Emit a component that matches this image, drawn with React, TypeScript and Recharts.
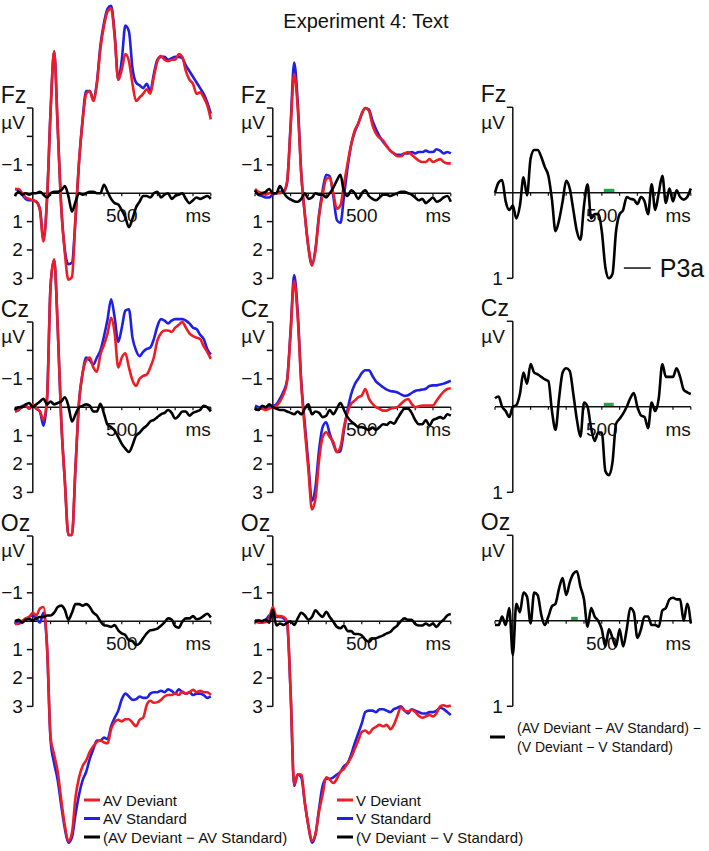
import React from 'react';
import { LineChart, Line, XAxis, YAxis, ReferenceLine, ReferenceArea } from 'recharts';

// time axis (ms)
const times = [-100, -80, -60, -40, -20, 0, 20, 40, 60, 80, 100, 120, 140, 160, 180, 200, 220, 240, 260, 280, 300, 320, 340, 360, 380, 400, 420, 440, 460, 480, 500, 520, 540, 560, 580, 600, 620, 640, 660, 680, 700, 720, 740, 760, 780, 800, 820, 840, 860, 880, 900, 920, 940, 960, 980, 1000];

// Fz
const avFzDev = [-0.15, -0.15, 0.0, 0.15, 0.2, 0.25, 0.3, 0.6, 1.7, 0.2,
  -2.9, -5.0, -2.3, 0.5, 2.1, 3.05, 2.95, 0.85, -1.15, -2.55,
  -3.5, -3.6, -3.25, -3.85, -5.1, -5.9, -6.4, -6.5, -5.5, -4.0,
  -4.35, -4.9, -4.65, -3.85, -3.25, -3.37, -3.5, -3.66, -3.5, -4.1,
  -4.65, -4.83, -4.7, -4.65, -4.7, -4.7, -4.9, -4.8, -4.3, -4.0,
  -3.85, -3.5, -3.55, -3.37, -3.1, -2.6];
const avFzStd = [-0.15, -0.1, 0.05, 0.2, 0.25, 0.25, 0.3, 0.55, 1.6, 0.2,
  -2.9, -5.0, -2.3, 0.5, 2.0, 2.5, 2.45, 0.9, -1.1, -2.6,
  -3.6, -3.6, -3.3, -3.9, -5.2, -6.0, -6.5, -6.6, -5.6, -4.0,
  -4.7, -5.9, -5.7, -4.4, -3.9, -3.8, -3.7, -3.85, -3.6, -4.2,
  -4.7, -4.8, -4.8, -4.7, -4.75, -4.8, -4.8, -4.75, -4.5, -4.3,
  -4.1, -3.9, -3.7, -3.5, -3.2, -2.8];
const avFzDiff = [0.1, -0.05, 0.05, 0.0, 0.05, 0.0, 0.0, -0.05, 0.05, 0.15,
  0.0, -0.05, -0.05, -0.1, -0.25, 0.1, 0.65, 0.3, 0.0, 0.05,
  0.0, -0.05, -0.05, 0.0, 0.0, -0.3, -0.05, 0.2, 0.35, 0.4,
  0.6, 0.85, 1.2, 0.9, 0.5, 0.3, 0.1, 0.1, 0.15, 0.0,
  -0.05, 0.15, 0.05, 0.0, 0.2, 0.1, 0.05, 0.0, 0.2, 0.35,
  0.25, 0.15, 0.2, 0.15, 0.1, 0.2];
const vFzDev = [-0.15, -0.05, 0.0, 0.05, 0.0, 0.0, 0.0, 0.0, -0.05, -0.4,
  -2.3, -4.2, -3.0, -0.65, 0.75, 1.9, 2.55, 2.0, 0.8, 0.05,
  -0.5, -0.55, 0.0, 0.55, 0.43, -0.33, -1.05, -1.7, -2.2, -2.45,
  -2.8, -3.0, -2.9, -2.4, -2.1, -1.95, -1.85, -1.65, -1.5, -1.4,
  -1.3, -1.3, -1.4, -1.45, -1.35, -1.25, -1.15, -1.1, -1.1, -1.2,
  -1.1, -1.15, -1.2, -1.1, -1.05, -1.05];
const vFzStd = [-0.1, 0.05, 0.1, 0.15, 0.15, 0.05, 0.0, -0.05, -0.05, -0.35,
  -2.4, -4.6, -3.2, -0.7, 0.75, 1.9, 2.5, 1.95, 0.75, -0.1,
  -0.65, -0.6, 0.1, 0.95, 1.05, 0.1, -0.9, -1.7, -2.15, -2.45,
  -2.8, -3.0, -2.95, -2.55, -2.25, -2.0, -1.8, -1.65, -1.5, -1.4,
  -1.35, -1.35, -1.4, -1.4, -1.45, -1.4, -1.45, -1.45, -1.5, -1.45,
  -1.45, -1.55, -1.5, -1.4, -1.45, -1.4];
const vFzDiff = [-0.1, 0.05, 0.0, -0.05, -0.15, 0.0, 0.0, -0.25, -0.03, 0.14,
  0.22, 0.28, 0.3, 0.2, 0.0, 0.2, 0.15, 0.0, 0.05, 0.05,
  0.15, 0.0, -0.2, -0.45, -0.65, -0.05, 0.1, -0.1, 0.0, 0.2,
  0.0, -0.1, 0.1, 0.2, 0.25, 0.15, 0.05, 0.05, 0.1, 0.05,
  0.0, -0.05, -0.05, 0.0, 0.05, 0.15, 0.25, 0.2, 0.35, 0.25,
  0.15, 0.3, 0.25, 0.15, 0.1, 0.3];
const ddFz = [0.0, -0.12, -0.15, 0.1, 0.2, 0.15, 0.3, 0.15, -0.18, 0.03,
  -0.4, -0.5, -0.5, -0.42, -0.3, -0.2, 0.08, 0.45, 0.32, 0.1,
  -0.14, -0.05, 0.2, 0.45, 0.55, 0.15, -0.1, 0.3, 0.25, 0.25,
  0.45, 0.87, 1.0, 0.95, 0.45, 0.25, 0.2, 0.05, 0.07, 0.08,
  0.13, 0.05, 0.1, 0.25, -0.1, 0.2, 0.0, -0.2, 0.12, -0.05,
  0.1, -0.03, 0.05, 0.08, 0.05, -0.05];

// Cz
const avCzDev = [0.15, 0.1, 0.0, -0.05, 0.05, -0.1, 0.05, 0.15, 0.45, -0.3,
  -4.3, -5.2, -2.8, 0.5, 2.6, 4.5, 4.5, 2.1, -0.2, -1.2,
  -1.65, -1.75, -1.4, -1.25, -1.85, -2.2, -2.6, -3.15, -2.6, -1.4,
  -1.75, -1.9, -1.4, -0.95, -0.75, -1.0, -1.1, -1.15, -1.4, -1.75,
  -2.35, -2.6, -2.7, -2.7, -2.65, -2.8, -2.9, -3.0, -2.8, -2.6,
  -2.5, -2.45, -2.4, -2.15, -1.95, -1.7];
const avCzStd = [0.15, 0.1, -0.05, -0.05, 0.05, -0.05, 0.05, 0.15, 0.65, -0.3,
  -4.3, -5.2, -2.8, 0.5, 2.6, 4.5, 4.5, 2.1, -0.2, -1.2,
  -1.75, -1.65, -1.5, -1.75, -2.0, -2.5, -3.1, -3.8, -3.15, -2.3,
  -2.8, -3.4, -3.45, -2.45, -2.0, -1.8, -1.95, -2.05, -2.1, -2.4,
  -2.85, -3.1, -3.05, -2.95, -3.05, -3.1, -3.1, -3.1, -3.05, -2.95,
  -2.8, -2.75, -2.55, -2.4, -2.05, -1.85];
const avCzDiff = [0.1, 0.0, 0.0, -0.1, -0.15, 0.0, -0.1, -0.2, -0.3, -0.1,
  -0.2, -0.1, -0.15, -0.2, -0.35, -0.05, 0.5, 0.25, 0.0, -0.05,
  -0.1, -0.05, 0.15, 0.15, -0.12, 0.23, 0.62, 0.7, 0.82, 1.05,
  1.29, 1.46, 1.58, 1.34, 1.0, 0.9, 0.75, 0.65, 0.5, 0.45,
  0.35, 0.25, 0.2, 0.1, 0.2, 0.4, 0.3, 0.15, 0.15, 0.3,
  0.2, 0.15, 0.1, -0.05, 0.0, 0.15];
const vCzDev = [0.1, 0.05, 0.05, 0.1, 0.05, 0.0, -0.05, -0.2, -0.45, -0.9,
  -2.6, -4.45, -3.15, -0.8, 0.8, 2.2, 3.6, 3.2, 1.85, 1.05,
  0.88, 1.05, 1.23, 1.58, 1.4, 0.7, 0.18, -0.12, -0.23, -0.35,
  -0.41, -0.64, -0.3, -0.12, 0.0, 0.06, 0.12, 0.12, 0.06, 0.03,
  0.0, -0.12, -0.23, -0.29, -0.12, 0.0, -0.03, -0.06, -0.06, -0.06,
  -0.06, -0.23, -0.4, -0.55, -0.64, -0.67];
const vCzStd = [-0.05, 0.0, 0.05, 0.05, 0.0, -0.05, -0.1, -0.3, -0.55, -0.95,
  -2.7, -4.65, -3.35, -0.9, 0.6, 2.0, 3.3, 2.8, 1.5, 0.7,
  0.53, 0.94, 1.29, 1.58, 1.55, 0.8, 0.1, -0.45, -0.8, -1.0,
  -1.2, -1.3, -1.3, -1.1, -0.9, -0.8, -0.7, -0.62, -0.57, -0.55,
  -0.52, -0.45, -0.4, -0.42, -0.5, -0.57, -0.6, -0.62, -0.65, -0.75,
  -0.77, -0.77, -0.8, -0.83, -0.88, -0.93];
const vCzDiff = [0.05, 0.1, -0.05, 0.0, -0.1, 0.0, 0.05, 0.1, 0.1, 0.15,
  0.2, 0.25, 0.15, 0.25, 0.05, -0.1, 0.25, 0.15, 0.2, 0.35,
  0.3, 0.1, 0.25, 0.05, -0.15, 0.1, 0.35, 0.5, 0.6, 0.7,
  0.7, 0.75, 0.8, 0.72, 0.8, 0.7, 0.6, 0.62, 0.52, 0.58,
  0.4, 0.2, 0.05, 0.05, 0.2, 0.45, 0.6, 0.6, 0.45, 0.65,
  0.45, 0.4, 0.35, 0.4, 0.25, 0.3];
const ddCz = [-0.1, -0.12, 0.0, 0.05, 0.12, 0.0, -0.02, -0.15, -0.4, -0.27,
  -0.5, -0.4, -0.38, -0.35, -0.32, -0.3, 0.05, 0.27, -0.1, -0.4,
  -0.45, -0.42, -0.15, 0.15, 0.35, -0.05, 0.0, 0.25, 0.4, 0.3,
  0.3, 0.75, 0.8, 0.65, 0.2, 0.14, 0.08, 0.0, -0.1, -0.16,
  0.0, 0.1, 0.12, 0.25, -0.05, 0.05, -0.1, -0.5, -0.35, -0.35,
  -0.35, -0.45, -0.35, -0.2, -0.17, -0.15];

// Oz
const avOzDev = [0.1, 0.1, 0.0, -0.1, -0.15, -0.3, -0.2, -0.45, -0.5, 0.9,
  4.1, 4.7, 5.3, 6.3, 7.2, 7.75, 7.45, 6.2, 5.5, 5.1,
  4.9, 4.6, 4.4, 4.25, 4.2, 4.27, 4.3, 3.8, 3.55, 3.47,
  3.53, 3.45, 3.45, 3.57, 3.7, 3.47, 3.4, 2.95, 2.8, 2.87,
  2.85, 2.77, 2.65, 2.6, 2.6, 2.54, 2.6, 2.48, 2.55, 2.5,
  2.42, 2.5, 2.45, 2.5, 2.5, 2.6];
const avOzStd = [0.1, 0.05, 0.0, -0.05, -0.15, -0.2, -0.1, 0.05, -0.3, 0.9,
  4.2, 5.0, 5.6, 6.5, 7.3, 7.8, 7.6, 6.8, 6.1, 5.6,
  5.3, 4.85, 4.5, 4.2, 4.2, 4.1, 4.15, 3.7, 3.4, 3.15,
  2.75, 2.55, 2.65, 2.77, 2.75, 2.65, 2.7, 2.7, 2.55, 2.5,
  2.5, 2.45, 2.5, 2.4, 2.45, 2.55, 2.4, 2.5, 2.55, 2.5,
  2.6, 2.55, 2.55, 2.6, 2.7, 2.65];
const avOzDiff = [0.0, -0.05, 0.05, -0.05, -0.08, -0.03, -0.1, -0.15, -0.15, -0.2,
  -0.2, -0.3, -0.5, -0.55, -0.4, -0.05, -0.3, -0.6, -0.6, -0.55,
  -0.6, -0.5, -0.3, -0.2, 0.0, 0.14, 0.16, 0.2, 0.14, 0.32,
  0.43, 0.49, 0.67, 0.7, 0.84, 0.78, 0.6, 0.43, 0.32, 0.3,
  0.26, 0.16, 0.04, -0.1, -0.06, 0.18, 0.23, 0.02, -0.1, -0.1,
  -0.18, -0.07, -0.1, -0.19, -0.26, -0.13];
const vOzDev = [0.0, 0.05, 0.05, 0.03, -0.1, -0.5, -0.18, -0.18, -0.15, 0.02,
  2.5, 5.75, 5.4, 5.4, 6.4, 7.2, 7.74, 7.5, 6.7, 6.1,
  5.5, 5.58, 5.7, 5.55, 5.3, 5.2, 5.0, 4.8, 4.5, 4.2,
  3.9, 3.85, 3.95, 3.8, 3.72, 3.65, 3.7, 3.65, 3.8, 3.65,
  3.33, 3.03, 3.15, 3.18, 3.12, 3.2, 3.33, 3.4, 3.35, 3.3,
  3.35, 3.24, 3.0, 2.96, 3.0, 2.97];
const vOzStd = [-0.05, 0.02, 0.0, -0.05, -0.2, -0.3, -0.15, -0.15, -0.1, 0.05,
  2.5, 5.8, 5.4, 5.5, 6.4, 7.2, 7.8, 7.5, 6.6, 5.8,
  5.55, 5.55, 5.5, 5.4, 5.3, 5.1, 5.0, 4.7, 4.3, 3.95,
  3.6, 3.2, 3.15, 3.15, 3.2, 3.1, 3.1, 3.15, 3.2, 3.1,
  3.05, 3.0, 3.15, 3.25, 3.1, 3.15, 3.2, 3.25, 3.25, 3.2,
  3.2, 3.15, 3.05, 3.1, 3.2, 3.3];
const vOzDiff = [0.02, -0.03, 0.0, -0.05, 0.05, -0.4, 0.15, 0.08, 0.13, 0.05,
  0.0, 0.13, -0.1, -0.3, -0.2, -0.05, -0.15, -0.38, -0.25, -0.15,
  -0.33, -0.15, 0.02, 0.2, 0.25, 0.15, 0.35, 0.35, 0.45, 0.45,
  0.5, 0.65, 0.73, 0.62, 0.6, 0.55, 0.5, 0.43, 0.38, 0.25,
  0.15, 0.0, -0.1, -0.05, -0.05, 0.1, 0.15, 0.15, 0.08, 0.15,
  0.08, 0.2, 0.05, -0.05, -0.2, -0.25];
const ddOz = [0.05, 0.05, -0.05, 0.05, -0.15, 0.4, -0.2, -0.1, -0.33, -0.28,
  0.03, -0.33, -0.3, -0.07, 0.05, -0.05, -0.17, -0.2, -0.38, -0.5,
  -0.3, -0.45, -0.55, -0.58, -0.4, -0.25, 0.07, -0.15, -0.05, 0.0,
  0.1, 0.3, 0.1, 0.2, 0.3, 0.1, 0.3, 0.1, -0.15, -0.1,
  0.2, 0.1, -0.05, -0.05, 0.05, 0.05, 0.07, -0.12, -0.15, -0.25,
  -0.27, -0.25, -0.25, 0.0, -0.2, 0.03];

// significant windows (ms) shown in green
const sigFz = [511, 571];
const sigCz = [511, 567];
const sigOz = [328, 365];

const xTicks = [-100, 100, 200, 300, 400, 500, 600, 700, 800, 900, 1000];
const erpTicks = [-2, -1, 1, 2, 3];
const erpTickLabels = ['', '−1', '1', '2', '3'];
const ddTicks = [1];
const ddTickLabels = ['1'];

const avNames = ['AV Deviant', 'AV Standard', '(AV Deviant − AV Standard)'];
const vNames = ['V Deviant', 'V Standard', '(V Deviant − V Standard)'];
const ddNames = ['(AV Deviant − AV Standard) −', '(V Deviant − V Standard)'];

const FONT = '"Liberation Sans", Arial, sans-serif';
const RED = '#ee1c24';
const BLUE = '#1f1fe6';
const GREEN = '#20a550';

const MS_PX = 0.178;
const X_DOMAIN: [number, number] = [-100, 1000];
const PLOT_W = (X_DOMAIN[1] - X_DOMAIN[0]) * MS_PX;
const TICK_MS = 6 / MS_PX;
const rowZero = [193, 407, 621];
const axisX = [33, 273, 512.3];

const erpScale = { px: 28.4, domain: [-8, 8.5] as [number, number], top: -3, bottom: 3, ticks: erpTicks, labels: erpTickLabels, unitDy: 21 };
const ddScale = { px: 85.5, domain: [-1.6, 1.6] as [number, number], top: -1, bottom: 1, ticks: ddTicks, labels: ddTickLabels, unitDy: 22 };

const TickText = ({ viewBox, text }: any) =>
  viewBox ? (
    <text x={viewBox.x - 4} y={viewBox.y} textAnchor="end" dominantBaseline="central" fontSize={19} fontFamily={FONT} fill="#111">
      {text}
    </text>
  ) : null;

const BracketText = ({ viewBox, name, unitDy }: any) =>
  viewBox ? (
    <g fontFamily={FONT} fill="#111">
      <text x={viewBox.x - 26} y={viewBox.y - 5} fontSize={23}>{name}</text>
      <text x={viewBox.x - 2} y={viewBox.y + unitDy} textAnchor="end" fontSize={19}>µV</text>
    </g>
  ) : null;

const MsText = ({ viewBox }: any) =>
  viewBox ? (
    <text x={viewBox.x + viewBox.width} y={viewBox.y + 29} textAnchor="end" fontSize={19} fontFamily={FONT} fill="#111">ms</text>
  ) : null;

const FiveHundred = ({ viewBox }: any) =>
  viewBox ? (
    <text x={viewBox.x} y={viewBox.y + 29} textAnchor="middle" fontSize={19} fontFamily={FONT} fill="#111">500</text>
  ) : null;

const P3aText = ({ viewBox }: any) =>
  viewBox ? (
    <text x={viewBox.x + viewBox.width + 9} y={viewBox.y} dominantBaseline="central" fontSize={25} fontFamily={FONT} fill="#111">P3a</text>
  ) : null;

function Panel({ col, row, name, dev, std, diff, names, sig, p3a }: any) {
  const sc = dev ? erpScale : ddScale;
  const height = (sc.domain[1] - sc.domain[0]) * sc.px;
  const top = rowZero[row] + sc.domain[0] * sc.px;
  const left = axisX[col] + X_DOMAIN[0] * MS_PX;
  const tickLen = 3 / sc.px;
  const data = times.map((t, i) => ({ t, dev: dev ? dev[i] : null, std: std ? std[i] : null, diff: diff[i] }));

  return (
    <div style={{ position: 'absolute', left, top }}>
      <LineChart width={PLOT_W} height={height} data={data} margin={{ top: 0, right: 0, bottom: 0, left: 0 }}>
        <XAxis type="number" dataKey="t" domain={X_DOMAIN} hide />
        <YAxis type="number" domain={sc.domain} reversed hide />

        {sig && (
          <ReferenceArea x1={sig[0]} x2={sig[1]} y1={-4 / sc.px} y2={0} fill={GREEN} fillOpacity={1} stroke="none" />
        )}

        {/* x axis on the zero line */}
        <ReferenceLine segment={[{ x: X_DOMAIN[0], y: 0 }, { x: X_DOMAIN[1], y: 0 }]} stroke="#111" strokeWidth={1.5} label={<MsText />} />
        {xTicks.map((t) => (
          <ReferenceLine key={'x' + t} segment={[{ x: t, y: 0 }, { x: t, y: tickLen }]} stroke="#111" strokeWidth={1.2}
            label={t === 500 ? <FiveHundred /> : undefined} />
        ))}

        {/* y axis at 0 ms */}
        <ReferenceLine segment={[{ x: 0, y: sc.top }, { x: 0, y: sc.bottom }]} stroke="#111" strokeWidth={1.5} />
        <ReferenceLine segment={[{ x: -TICK_MS, y: sc.top }, { x: 0, y: sc.top }]} stroke="#111" strokeWidth={1.5}
          label={<BracketText name={name} unitDy={sc.unitDy} />} />
        {sc.ticks.map((v: number, i: number) => (
          <ReferenceLine key={'y' + v} segment={[{ x: -TICK_MS, y: v }, { x: 0, y: v }]} stroke="#111" strokeWidth={1.5}
            label={<TickText text={sc.labels[i]} />} />
        ))}

        {p3a && (
          <ReferenceLine segment={[{ x: 624, y: 0.88 }, { x: 775, y: 0.88 }]} stroke="#111" strokeWidth={1.5} label={<P3aText />} />
        )}

        {std && <Line dataKey="std" name={names[1]} type="monotone" stroke={BLUE} strokeWidth={2.6} dot={false} activeDot={false} isAnimationActive={false} />}
        {dev && <Line dataKey="dev" name={names[0]} type="monotone" stroke={RED} strokeWidth={2.6} dot={false} activeDot={false} isAnimationActive={false} />}
        <Line dataKey="diff" name={names[2]} type="monotone" stroke="#000" strokeWidth={2.6} dot={false} activeDot={false} isAnimationActive={false} />
      </LineChart>
    </div>
  );
}

function LegendBlock({ x, y, labels }: { x: number; y: number; labels: string[] }) {
  const colors = [RED, BLUE, '#000'];
  return (
    <g fontFamily={FONT} fontSize={15} fill="#111">
      {labels.map((l, i) => (
        <g key={l}>
          <line x1={x} x2={x + 16} y1={y + i * 18.5} y2={y + i * 18.5} stroke={colors[i]} strokeWidth={3} />
          <text x={x + 19} y={y + i * 18.5 + 5.5}>{l}</text>
        </g>
      ))}
    </g>
  );
}

export default function App() {
  return (
    <div style={{ position: 'relative', width: 709, height: 851, overflow: 'hidden', background: '#fff', fontFamily: FONT }}>
      <style>{'body{margin:0} .recharts-surface,.recharts-wrapper{overflow:visible}'}</style>

      <Panel col={0} row={0} name="Fz" dev={avFzDev} std={avFzStd} diff={avFzDiff} names={avNames} />
      <Panel col={1} row={0} name="Fz" dev={vFzDev} std={vFzStd} diff={vFzDiff} names={vNames} />
      <Panel col={2} row={0} name="Fz" diff={ddFz} names={['', '', ddNames.join(' ')]} sig={sigFz} p3a />

      <Panel col={0} row={1} name="Cz" dev={avCzDev} std={avCzStd} diff={avCzDiff} names={avNames} />
      <Panel col={1} row={1} name="Cz" dev={vCzDev} std={vCzStd} diff={vCzDiff} names={vNames} />
      <Panel col={2} row={1} name="Cz" diff={ddCz} names={['', '', ddNames.join(' ')]} sig={sigCz} />

      <Panel col={0} row={2} name="Oz" dev={avOzDev} std={avOzStd} diff={avOzDiff} names={avNames} />
      <Panel col={1} row={2} name="Oz" dev={vOzDev} std={vOzStd} diff={vOzDiff} names={vNames} />
      <Panel col={2} row={2} name="Oz" diff={ddOz} names={['', '', ddNames.join(' ')]} sig={sigOz} />

      <svg width={709} height={851} style={{ position: 'absolute', left: 0, top: 0, pointerEvents: 'none' }}>
        <text x={366} y={28} textAnchor="middle" fontSize={20} fontFamily={FONT} fill="#111">Experiment 4: Text</text>
        <LegendBlock x={84} y={800} labels={avNames} />
        <LegendBlock x={337} y={800} labels={vNames} />
        <g fontFamily={FONT} fontSize={14} fill="#111">
          <line x1={490} x2={505} y1={737} y2={737} stroke="#000" strokeWidth={3} />
          <text x={517} y={733}>{ddNames[0]}</text>
          <text x={517} y={751.5}>{ddNames[1]}</text>
        </g>
      </svg>
    </div>
  );
}
